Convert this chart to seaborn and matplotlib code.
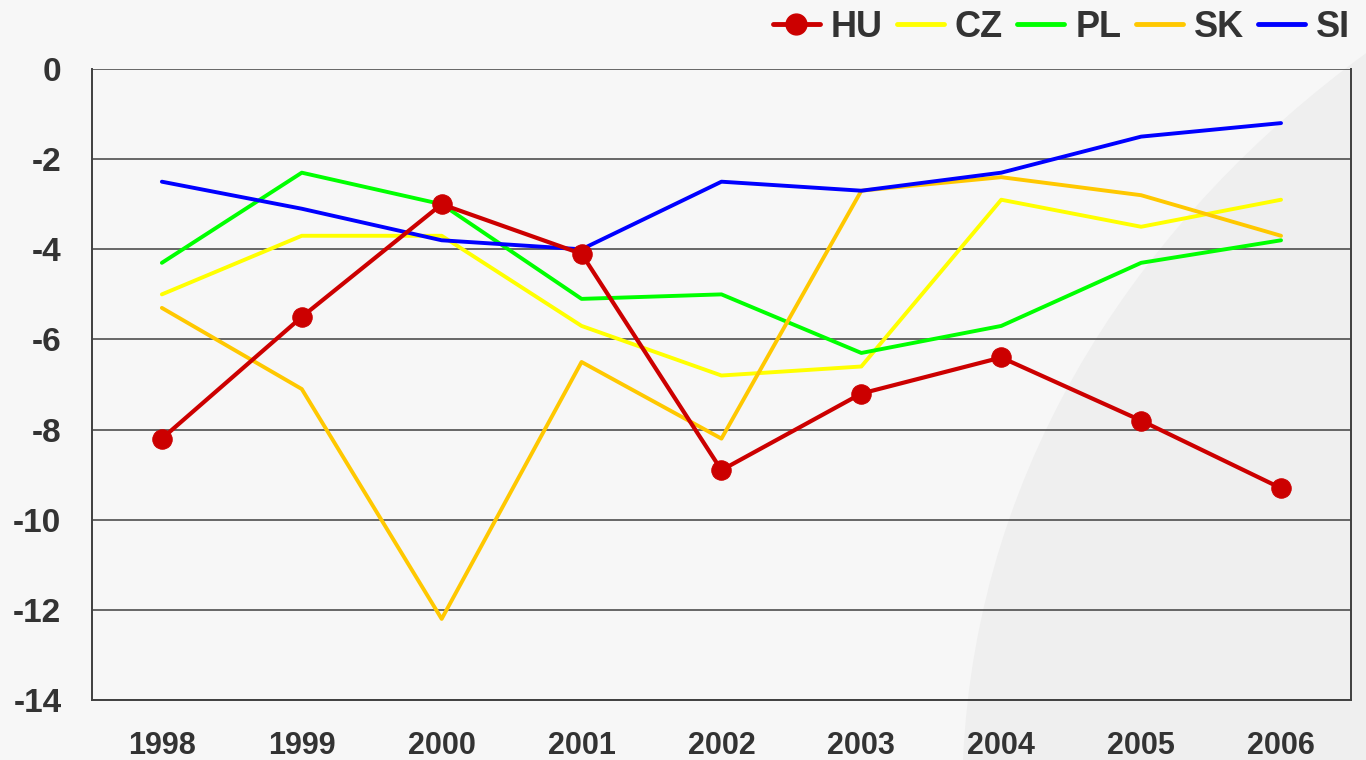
import pandas as pd
import seaborn as sns
import matplotlib.pyplot as plt
from matplotlib.path import Path
from matplotlib.patches import PathPatch

years = [1998, 1999, 2000, 2001, 2002, 2003, 2004, 2005, 2006]
hu = [-8.2, -5.5, -3.0, -4.1, -8.9, -7.2, -6.4, -7.8, -9.3]
cz = [-5.0, -3.7, -3.7, -5.7, -6.8, -6.6, -2.9, -3.5, -2.9]
pl = [-4.3, -2.3, -3.0, -5.1, -5.0, -6.3, -5.7, -4.3, -3.8]
sk = [-5.3, -7.1, -12.2, -6.5, -8.2, -2.7, -2.4, -2.8, -3.7]
si = [-2.5, -3.1, -3.8, -4.0, -2.5, -2.7, -2.3, -1.5, -1.2]

series = {"HU": hu, "CZ": cz, "PL": pl, "SK": sk, "SI": si}
colors = {"HU": "#cc0000", "CZ": "#ffff00", "PL": "#00ff00", "SK": "#ffc800", "SI": "#0000ff"}

sns.set_style("white")
plt.rcParams["font.family"] = ["Liberation Sans", "DejaVu Sans"]
plt.rcParams["font.weight"] = "bold"
plt.rcParams["axes.unicode_minus"] = False

fig = plt.figure(figsize=(13.66, 7.6), dpi=100, facecolor="#f7f7f7")

# soft shaded swoosh in the lower right corner, on a background axes
bg = fig.add_axes([0, 0, 1, 1], zorder=-1)
bg.set_axis_off()
bg.set_xlim(0, 1)
bg.set_ylim(0, 1)
verts = [(0.705, 0.0), (0.715, 0.40), (0.84, 0.72), (1.0, 0.93), (1.0, 0.0), (0.705, 0.0)]
codes = [Path.MOVETO, Path.CURVE4, Path.CURVE4, Path.CURVE4, Path.LINETO, Path.CLOSEPOLY]
bg.add_patch(PathPatch(Path(verts, codes), facecolor="#efefef", edgecolor="none"))

ax = fig.add_axes([0.0673, 0.0789, 0.9217, 0.8303])
ax.set_facecolor("none")

order = ["CZ", "PL", "SK", "SI", "HU"]
for name in order:
    df = pd.DataFrame({"year": years, "value": series[name]})
    if name == "HU":
        sns.lineplot(data=df, x="year", y="value", ax=ax, color=colors[name], lw=3,
                     marker="o", markersize=14, markeredgecolor=colors[name], zorder=5)
    else:
        sns.lineplot(data=df, x="year", y="value", ax=ax, color=colors[name], lw=2.8, zorder=3)

ax.set_xlim(1997.5, 2006.5)
ax.set_ylim(-14, 0)
ax.set_xticks(years)
ax.set_yticks(range(-14, 1, 2))
ax.set_xlabel("")
ax.set_ylabel("")
ax.yaxis.grid(True, color="#404040", lw=1.1)
ax.set_axisbelow(True)
for s in ax.spines.values():
    s.set_color("#404040")
    s.set_linewidth(1.4)
ax.spines["top"].set_visible(False)
ax.tick_params(axis="y", length=10, width=1.1, color="#404040", direction="out",
               labelsize=24, labelcolor="#333333", pad=12)
ax.tick_params(axis="x", length=0, labelsize=22, labelcolor="#333333", pad=22)
for lab in ax.get_xticklabels() + ax.get_yticklabels():
    lab.set_fontweight("bold")

handles = []
for name in series:
    h, = ax.plot([], [], color=colors[name], lw=3.5,
                 marker="o" if name == "HU" else None, markersize=15)
    handles.append(h)
fig.legend(handles, list(series), loc="upper right", bbox_to_anchor=(1.012, 1.03), ncol=5,
           frameon=False, prop={"size": 26, "weight": "bold"}, labelcolor="#333333",
           handlelength=1.3, handletextpad=0.3, columnspacing=0.4)

fig.savefig("out.png", dpi=100, facecolor=fig.get_facecolor())
